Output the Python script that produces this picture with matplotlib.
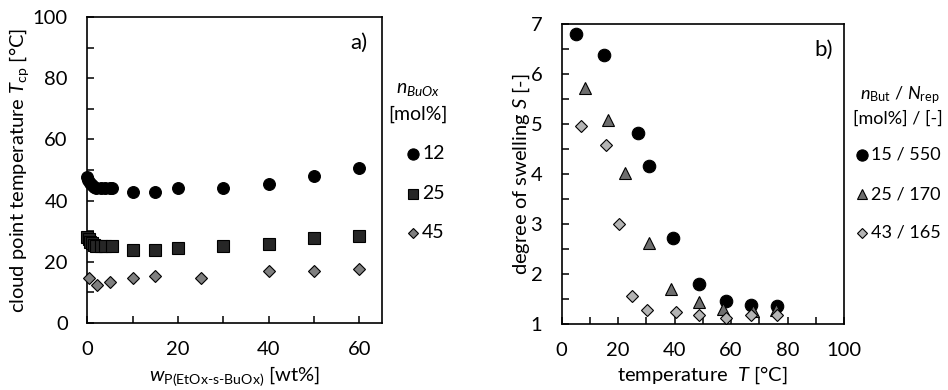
import matplotlib
matplotlib.use("Agg")
import matplotlib.pyplot as plt
from matplotlib.lines import Line2D
from matplotlib.ticker import MultipleLocator

plt.rcParams['font.family'] = ['Lato', 'DejaVu Sans']
plt.rcParams['mathtext.fontset'] = 'custom'
plt.rcParams['mathtext.rm'] = 'Lato'
plt.rcParams['mathtext.it'] = 'Lato:italic'
plt.rcParams['mathtext.bf'] = 'Lato:bold'

# ---- panel a) data: cloud point temperature vs polymer weight fraction ----
a_w12 = [0, 0.2, 0.5, 1, 1.5, 2, 3, 4, 5, 5.5, 10, 15, 20, 30, 40, 50, 60]
a_t12 = [47.6, 46.8, 45.8, 45.0, 44.5, 44.2, 44.2, 44.2, 44.2, 44.2, 42.9, 42.9, 44.2, 44.2, 45.3, 48.1, 50.5]
a_w25 = [0, 0.3, 0.5, 1, 1.5, 2, 3, 4, 5.5, 10, 15, 20, 30, 40, 50, 60]
a_t25 = [28.0, 27.5, 26.5, 26.0, 25.5, 25.2, 25.2, 25.2, 25.2, 24.0, 24.0, 24.6, 25.1, 25.8, 27.8, 28.5]
a_w45 = [0.4, 2.1, 5.1, 10, 15, 25, 40, 50, 60]
a_t45 = [14.7, 12.3, 13.5, 14.7, 15.3, 14.7, 17.0, 17.0, 17.7]
a_labels = ['12', '25', '45']

# ---- panel b) data: degree of swelling vs temperature ----
b_T15 = [5.0, 15.0, 27.2, 30.9, 39.5, 48.8, 58.3, 67.0, 76.4]
b_S15 = [6.81, 6.38, 4.83, 4.17, 2.72, 1.81, 1.46, 1.39, 1.36]
b_T25 = [8.4, 16.5, 22.6, 30.9, 38.6, 48.8, 57.2, 67.8, 76.0]
b_S25 = [5.73, 5.08, 4.02, 2.62, 1.70, 1.45, 1.30, 1.27, 1.28]
b_T43 = [7.0, 15.7, 20.2, 25.0, 30.3, 40.4, 48.8, 58.3, 67.0, 76.2]
b_S43 = [4.97, 4.59, 3.00, 1.57, 1.28, 1.25, 1.18, 1.13, 1.18, 1.18]
b_labels = ['15 / 550', '25 / 170', '43 / 165']

fig = plt.figure(figsize=(9.48, 3.9), dpi=100)
W, H = 948.0, 390.0

def fx(px):
    return px / W

def fy(py):
    return 1 - py / H

axA = fig.add_axes([fx(87.3), fy(323), fx(382) - fx(87.3), fy(17) - fy(323)])
axB = fig.add_axes([fx(561.7), fy(324), fx(844) - fx(561.7), fy(24) - fy(324)])

tick_fs = 14.5
lab_fs = 14.5
legA_fs = 14
legB_fs = 13

styleA = [
    dict(marker='o', color='black', markeredgecolor='black', markersize=8.5, markeredgewidth=0.8),
    dict(marker='s', color='#262626', markeredgecolor='black', markersize=8.5, markeredgewidth=0.8),
    dict(marker='D', color='#7f7f7f', markeredgecolor='black', markersize=6.5, markeredgewidth=0.8),
]
for (xs, ys), st in zip([(a_w12, a_t12), (a_w25, a_t25), (a_w45, a_t45)], styleA):
    axA.plot(xs, ys, linestyle='none', clip_on=False, zorder=3, **st)

axA.set_xlim(0, 65)
axA.set_ylim(0, 100)
axA.xaxis.set_major_locator(MultipleLocator(20))
axA.xaxis.set_minor_locator(MultipleLocator(10))
axA.yaxis.set_major_locator(MultipleLocator(20))
axA.yaxis.set_minor_locator(MultipleLocator(10))
axA.set_xlabel(r'$w_{\mathrm{P(EtOx\text{-}s\text{-}BuOx)}}$ [wt%]', fontsize=lab_fs, labelpad=4)
axA.set_ylabel(r'cloud point temperature $T_{\mathrm{cp}}$ [°C]', fontsize=lab_fs, labelpad=1)
axA.text(0.95, 0.915, 'a)', transform=axA.transAxes, fontsize=16, ha='right', va='center')

styleB = [
    dict(marker='o', color='black', markeredgecolor='black', markersize=9, markeredgewidth=0.8),
    dict(marker='^', color='#6e6e6e', markeredgecolor='black', markersize=8.5, markeredgewidth=0.8),
    dict(marker='D', color='#b4b4b4', markeredgecolor='black', markersize=6.5, markeredgewidth=0.8),
]
for (xs, ys), st in zip([(b_T15, b_S15), (b_T25, b_S25), (b_T43, b_S43)], styleB):
    axB.plot(xs, ys, linestyle='none', clip_on=False, zorder=3, **st)

axB.set_xlim(0, 100)
axB.set_ylim(1, 7)
axB.xaxis.set_major_locator(MultipleLocator(20))
axB.xaxis.set_minor_locator(MultipleLocator(10))
axB.yaxis.set_major_locator(MultipleLocator(1))
axB.yaxis.set_minor_locator(MultipleLocator(0.5))
axB.set_xlabel(r'temperature  $T$ [°C]', fontsize=lab_fs, labelpad=4)
axB.set_ylabel(r'degree of swelling $S$ [-]', fontsize=lab_fs, labelpad=-1)
axB.text(0.96, 0.913, 'b)', transform=axB.transAxes, fontsize=16, ha='right', va='center')

for ax in (axA, axB):
    for sp in ax.spines.values():
        sp.set_linewidth(1.2)
    ax.tick_params(which='both', direction='in', width=1.1, labelsize=tick_fs)
    ax.tick_params(which='major', length=5)
    ax.tick_params(which='minor', length=5)
    ax.tick_params(axis='x', which='both', pad=13)
    ax.tick_params(axis='y', which='both', pad=14)

# ---- legends (manual keys next to the axes) ----
fig.text(fx(418), fy(90), r'$n_{BuOx}$', fontsize=legA_fs, ha='center', va='center')
fig.text(fx(418), fy(114), '[mol%]', fontsize=legA_fs, ha='center', va='center')
for i, (lab, st) in enumerate(zip(a_labels, styleA)):
    yy = fy(154 + 39.5 * i)
    ms = st['markersize'] * (0.85 if st['marker'] != 'o' else 0.95)
    fig.add_artist(Line2D([fx(413)], [yy], transform=fig.transFigure, linestyle='none',
                          **{**st, 'markersize': ms}))
    fig.text(fx(422), yy, lab, fontsize=legA_fs, ha='left', va='center')

fig.text(fx(900), fy(95), r'$n_{\mathrm{But}}$ / $N_{\mathrm{rep}}$', fontsize=legB_fs, ha='center', va='center')
fig.text(fx(898), fy(119), '[mol%] / [-]', fontsize=legB_fs, ha='center', va='center')
for i, (lab, st) in enumerate(zip(b_labels, styleB)):
    yy = fy(155 + 39 * i)
    ms = st['markersize'] * (0.8 if st['marker'] != 'o' else 0.9)
    fig.add_artist(Line2D([fx(862)], [yy], transform=fig.transFigure, linestyle='none',
                          **{**st, 'markersize': ms}))
    fig.text(fx(871), yy, lab, fontsize=legB_fs, ha='left', va='center')

fig.savefig('out.png', dpi=100)
